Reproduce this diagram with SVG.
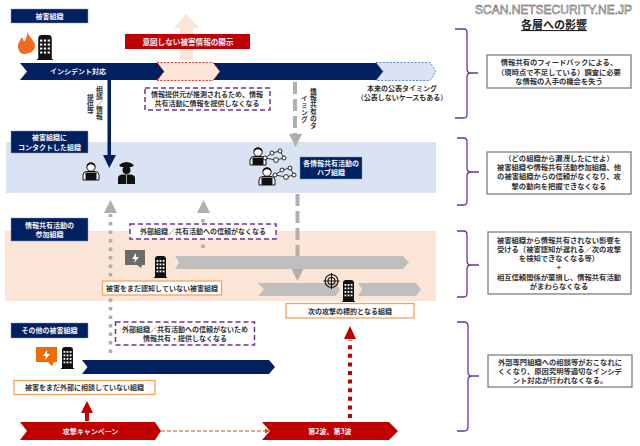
<svg xmlns="http://www.w3.org/2000/svg" xmlns:xlink="http://www.w3.org/1999/xlink" width="640" height="446" viewBox="0 0 640 446">
<style>
text{font-family:"Noto Sans CJK JP","Liberation Sans",sans-serif;font-size:7px;fill:#333;text-anchor:middle;font-weight:700}
.w{fill:#f4f4f8}
.v{writing-mode:vertical-rl;font-size:6.800px}
.r{font-size:7.300px}
.navy{fill:#002060}
.hdr{fill:#002060;stroke:#8494b8;stroke-width:.5}
.org{fill:#fff;stroke:#f4a460;stroke-width:1.300}
.pur{fill:#fff;stroke:#7030a0;stroke-width:1.500;stroke-dasharray:5 3}
.gbox{fill:#fff;stroke:#7f7f7f;stroke-width:1.300}
.brace{fill:none;stroke:#7030a0;stroke-width:1.300}
.gd{fill:none;stroke:#afafaf;stroke-width:3.600}
.g{fill:#bfbfbf}
.k{fill:#111}
.ln{fill:none;stroke:#111;stroke-width:1.100}
</style>
<defs>
<g id="bld"><path d="M1 21V3Q1 0 4 0H9Q12 0 12 3V21H13V22H0V21Z" class="k"/><g fill="#fff"><rect x="2.500" y="4" width="1.800" height="1.800"/><rect x="5.600" y="4" width="1.800" height="1.800"/><rect x="8.700" y="4" width="1.800" height="1.800"/><rect x="2.500" y="7.500" width="1.800" height="1.800"/><rect x="5.600" y="7.500" width="1.800" height="1.800"/><rect x="8.700" y="7.500" width="1.800" height="1.800"/><rect x="2.500" y="11" width="1.800" height="1.800"/><rect x="5.600" y="11" width="1.800" height="1.800"/><rect x="8.700" y="11" width="1.800" height="1.800"/><rect x="2.500" y="14.500" width="1.800" height="1.800"/><rect x="5.600" y="14.500" width="1.800" height="1.800"/><rect x="8.700" y="14.500" width="1.800" height="1.800"/></g></g>
<g id="tech"><circle cx="8" cy="5" r="4.200" fill="#fff" stroke="#111"/><path d="M4 4.500Q8 0 12 4.500L12 2Q8-1 4 2Z" class="k"/><path d="M0 18V13Q0 9.500 4 9.500H12Q16 9.500 16 13V18Z" fill="#fff" stroke="#111"/><rect x="2.500" y="10.500" width="11" height="7.500" rx=".8" class="k"/></g>
<g id="net"><g fill="none" stroke="#111" stroke-width=".8"><path d="M2 9L9 4L17 2L21 9L13 11Z"/></g><g fill="#fff" stroke="#111" stroke-width=".9"><circle cx="2" cy="9" r="2"/><circle cx="9" cy="4" r="2"/><circle cx="17" cy="2" r="2"/><circle cx="21" cy="9" r="2"/><circle cx="13" cy="11" r="2.400"/></g></g>
</defs>

<g id="band-hub"><rect x="6" y="142" width="430" height="51" fill="#dae3f3"/></g>
<g id="band-participants"><rect x="5" y="231" width="431" height="70" fill="#fbe5d6"/></g>

<g id="connectors">
<path d="M180 60V28H174L186.500 14L199 28H193V60Z" fill="#fbe5d6"/>
<path d="M107.500 80H111V155H116L109.300 168L103 155H107.500Z" class="navy"/>
<path class="gd" d="M295 82V134" stroke-dasharray="12 5" style="stroke-width:4"/>
<path d="M289 134H302L295.500 147Z" fill="#afafaf"/>
<path class="gd" d="M110.500 353V214" stroke-dasharray="3.500 5"/>
<path d="M104 213L110.500 200L117 213Z" fill="#afafaf"/>
<path class="gd" d="M203 248V214" stroke-dasharray="3.500 5"/>
<path d="M197 213L203.500 200L210 213Z" fill="#afafaf"/>
<path class="gd" d="M297.500 194V268" stroke-dasharray="12 5" style="stroke-width:4"/>
<path d="M291 268H304L297.500 281Z" fill="#afafaf"/>
<path d="M87 421V413" stroke="#c00000" stroke-width="4"/>
<path d="M81 413L87 401L93 413Z" fill="#c00000"/>
<path d="M350 418V340" stroke="#c00000" stroke-width="4" stroke-dasharray="4 4.600" fill="none"/>
<path d="M344 339L350 326L356 339Z" fill="#c00000"/>
<path d="M161 431H266" stroke="#c55a11" stroke-width="1.200" stroke-dasharray="4 2" fill="none"/>
<path d="M265 428.500L270 431L265 433.500Z" fill="#c55a11"/>
</g>

<g id="arrow-incident">
<path d="M20 63H383L390 71.500L383 80H20L27 71.500Z" class="navy"/>
<path d="M157 62.500H213L220 71.500L213 80.500H157L164 71.500Z" fill="#fbe5d6" stroke="#e00000" stroke-width=".8" stroke-dasharray="2 1.500"/>
<path d="M376 62.500H430L436 71.500L430 80.500H376L383 71.500Z" fill="#dae3f3" stroke="#2e75d6" stroke-width=".8" stroke-dasharray="2 1.500"/>
<text x="78" y="74" class="w">インシデント対応</text>
</g>

<g id="victim-org">
<rect class="hdr" x="11" y="9" width="77" height="14"/><text x="49.500" y="18.500" class="w">被害組織</text>
<path d="M27 31C29 38 36 41 35 47C34 52 28 54 24 54C20 54 18 50 18 46C18 42 21 40 22 37C23 39 23 41 25 41C26 38 28 35 27 31Z" fill="#f26b21"/>
<use xlink:href="#bld" transform="translate(37 35) scale(1.230 1.140)"/>
</g>

<g id="disclosure"><rect x="125" y="34" width="125" height="15" fill="#c00000"/><text x="188" y="44.500" class="w" style="font-size:7.600px">意図しない被害情報の開示</text></g>

<g id="note-source"><rect class="pur" x="145" y="88" width="125" height="22"/><text x="207" y="97">情報提供元が推測されるため、情報</text><text x="207" y="106">共有活動に情報を提供しなくなる</text></g>

<g id="label-contact">
<text class="v" x="99.500" y="103">相談／情報</text>
<text class="v" x="90.500" y="104">提供等</text>
</g>
<g id="label-timing">
<text class="v" x="313.500" y="108">情報共有のタ</text>
<text class="v" x="304.500" y="109">イミング</text>
</g>
<g id="label-public"><text x="402" y="91">本来の公表タイミング</text><text x="402" y="100">（公表しないケースもある）</text></g>

<g id="contact-org">
<rect class="hdr" x="11" y="131" width="77" height="22"/><text x="49.500" y="140" class="w">被害組織に</text><text x="49.500" y="149.500" class="w">コンタクトした組織</text>
<use xlink:href="#tech" x="83" y="162"/>
<circle cx="126.500" cy="170" r="4" class="k"/><path d="M119 165Q126.500 159 134 165L132 167H121Z" class="k"/><path d="M118 184V178Q118 175 122 174.500H131Q135 175 135 178V184Z" class="k"/><path d="M126.500 175V184" stroke="#fff" stroke-width=".6"/>
</g>

<g id="hub-org">
<use xlink:href="#tech" x="250" y="147"/>
<use xlink:href="#net" x="263" y="149"/>
<use xlink:href="#tech" x="259" y="167"/>
<use xlink:href="#net" x="273" y="166"/>
<rect class="hdr" x="300" y="157" width="62" height="22"/><text x="331" y="166" class="w">各情報共有活動の</text><text x="331" y="175" class="w">ハブ組織</text>
</g>

<g id="participant-org">
<rect class="hdr" x="11" y="218" width="77" height="23"/><text x="49.500" y="227.500" class="w">情報共有活動の</text><text x="49.500" y="237" class="w">参加組織</text>
</g>

<g id="note-trust"><rect class="pur" x="130" y="224" width="146" height="15"/><text x="203" y="234">外部組織／共有活動への信頼がなくなる</text></g>

<g id="unaware-org">
<path d="M125 250H145V265H142L141 268L137 265H125Z" fill="#6b6b6b"/><path d="M136 253L132 259H135L134 263L139 257H136Z" fill="#fff"/>
<use xlink:href="#bld" x="154" y="256"/>
<path d="M175 256H403L409 262.500L403 269H175L179 262.500Z" class="g"/>
<rect class="org" x="102.500" y="281" width="119" height="14"/><text x="162" y="290.500">被害をまだ認知していない被害組織</text>
</g>

<g id="target-org">
<path d="M258 283H336L340 290L336 296H258L264 289.500Z" class="g"/>
<path d="M358 283H416L421 289.500L416 296H358L362 289.500Z" class="g"/>
<g class="ln"><circle cx="331.500" cy="281" r="6.500"/><circle cx="331.500" cy="281" r="3.500"/><path d="M331.500 273V289M323.500 281H339.500"/></g>
<use xlink:href="#bld" x="342" y="280"/>
<rect class="org" x="286" y="303.500" width="128" height="14.500"/><text x="350" y="313.500">次の攻撃の標的となる組織</text>
</g>

<g id="other-org">
<rect class="hdr" x="11" y="323" width="77" height="15"/><text x="49.500" y="333" class="w">その他の被害組織</text>
<path d="M36 347H57V362H54L52 366L48 362H36Z" fill="#f26b00"/><path d="M47 350L43 356H46L45 360L50 354H47Z" fill="#fff"/>
<use xlink:href="#bld" x="61" y="347"/>
<path d="M82 360H269L275 367L269 374H82L87.500 367Z" class="navy"/>
<rect class="org" x="14" y="380.500" width="141" height="14"/><text x="84.500" y="390">被害をまだ外部に相談していない組織</text>
</g>

<g id="note-external"><rect class="pur" x="115.500" y="322" width="139" height="23"/><text x="185" y="331.500">外部組織／共有活動への信頼がないため</text><text x="185" y="340.500">情報共有・提供しなくなる</text></g>

<g id="campaign-1"><path d="M20 422H155L161 431L155 440H20L27 431Z" fill="#c00000"/><text x="90.500" y="433.500" class="w">攻撃キャンペーン</text></g>
<g id="campaign-2"><path d="M262 422H389L398 431L389 440H262L270 431Z" fill="#c00000"/><text x="330" y="433.500" class="w">第2波、第3波</text></g>

<g id="watermark"><text x="553.500" y="13.500" textLength="157" lengthAdjust="spacingAndGlyphs" style="font-family:'Liberation Sans',sans-serif;font-size:12px;fill:#fff;stroke:#333;stroke-width:.45;font-weight:400">SCAN.NETSECURITY.NE.JP</text></g>
<g id="title"><text x="554" y="29" style="font-size:11px;fill:#222;text-decoration:underline">各層への影響</text></g>

<g id="impact-1">
<path class="brace" d="M455 29H464Q467 29 467 33V69Q467 73 471 73H478M471 73Q467 73 467 77V114Q467 118 464 118H455"/>
<rect class="gbox" x="487" y="55" width="144" height="33"/><text class="r" x="559" y="65">情報共有のフィードバックによる、</text><text class="r" x="559" y="74.500">（現時点で不足している）調査に必要</text><text class="r" x="559" y="84">な情報の入手の機会を失う</text>
</g>
<g id="impact-2">
<path class="brace" d="M457 138H464Q467 138 467 142V168Q467 172 471 172H479M471 172Q467 172 467 176V201Q467 205 464 205H457"/>
<rect class="gbox" x="487" y="152" width="144" height="42"/><text class="r" x="559" y="160.500">（どの組織から漏洩したにせよ）</text><text class="r" x="559" y="169.500">被害組織や情報共有活動参加組織、他</text><text class="r" x="559" y="179">の被害組織からの信頼がなくなり、攻</text><text class="r" x="559" y="188.500">撃の動向を把握できなくなる</text>
</g>
<g id="impact-3">
<path class="brace" d="M457 231H464Q467 231 467 235V261Q467 265 471 265H479M471 265Q467 265 467 269V293Q467 297 464 297H457"/>
<rect class="gbox" x="488" y="232" width="143" height="62"/><text class="r" x="559" y="242.500">被害組織から情報共有されない影響を</text><text class="r" x="559" y="251.500">受ける（被害認知が遅れる／次の攻撃</text><text class="r" x="559" y="261">を検知できなくなる等）</text><text class="r" x="559" y="270">+</text><text class="r" x="559" y="279.500">相互信頼関係が棄損し、情報共有活動</text><text class="r" x="559" y="289">がまわらなくなる</text>
</g>
<g id="impact-4">
<path class="brace" d="M457 322H464Q468 322 468 326V372Q468 376 472 376H479M472 376Q468 376 468 380V427Q468 431 464 431H457"/>
<rect class="gbox" x="488" y="355" width="144" height="32"/><text class="r" x="560" y="364.500">外部専門組織への相談等がおこなれに</text><text class="r" x="560" y="373.500">くくなり、原因究明等適切なインシデ</text><text class="r" x="560" y="383">ント対応が行われなくなる。</text>
</g>
</svg>
